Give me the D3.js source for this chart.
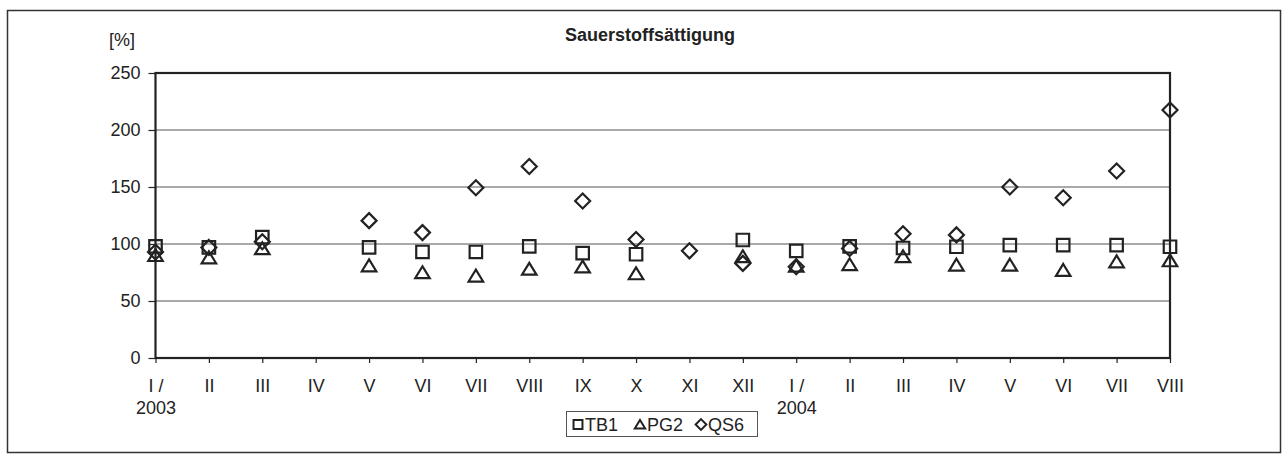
<!DOCTYPE html>
<html><head><meta charset="utf-8">
<script src="https://cdn.jsdelivr.net/npm/d3@7"></script>
<style>html,body{margin:0;padding:0;background:#fff;}svg{display:block;font-family:"Liberation Sans",Arial,sans-serif;}</style>
</head><body>
<svg id="c" width="1288" height="457"></svg>
<script>
const categories = ["I /","II","III","IV","V","VI","VII","VIII","IX","X","XI","XII","I /","II","III","IV","V","VI","VII","VIII"];
const yearLabels = ["2003","","","","","","","","","","","","2004","","","","","","",""];
const yTicks = [0,50,100,150,200,250];
const seriesNames = ["TB1","PG2","QS6"];
const TB1 = [98,97,106,null,97,93,93,98,92,91,null,103.5,94,98,96.5,97.6,99,99,99,97.6];
const PG2 = [90,88,96,null,81,75,72,78,80,74,null,89,80.7,82,89,81.6,81.6,77,84.5,85.4];
const QS6 = [93,97,102,null,120.5,110,149.4,168,137.7,104,94,83,80,96,109,108,150,140.6,164,217.5];

const ink = "#222";
const svg = d3.select("#c");
const plot = {l:155.5, r:1170, t:73, b:358};
const FS = "18px";

svg.append("rect").attr("x",7.5).attr("y",10.5).attr("width",1273).attr("height",442)
  .attr("fill","none").attr("stroke","#333").attr("stroke-width",1.5);

const x = d3.scalePoint().domain(d3.range(categories.length)).range([plot.l, plot.r]);
const y = d3.scaleLinear().domain([0,250]).range([plot.b, plot.t]);

// gridlines
svg.append("g").selectAll("line").data(yTicks.filter(v=>v>0 && v<250)).join("line")
  .attr("x1",plot.l).attr("x2",plot.r).attr("y1",d=>y(d)).attr("y2",d=>y(d))
  .attr("stroke","#555").attr("stroke-width",1);

// y axis
const yAxis = d3.axisLeft(y).tickValues(yTicks).tickSize(7).tickPadding(8);
const gy = svg.append("g").attr("transform",`translate(${plot.l},0)`).call(yAxis);
gy.attr("font-size",null).attr("font-family",null);
gy.select(".domain").remove();
gy.selectAll(".tick line").attr("stroke",ink).attr("stroke-width",1.2);
gy.selectAll(".tick text").attr("fill",ink).attr("font-size",FS).style("font-size",FS);

// x axis
const xAxis = d3.axisBottom(x).tickFormat(i=>categories[i]).tickSize(5).tickPadding(16);
const gx = svg.append("g").attr("transform",`translate(0,${plot.b})`).call(xAxis);
gx.attr("font-size",null).attr("font-family",null);
gx.select(".domain").remove();
gx.selectAll(".tick line").attr("stroke",ink).attr("stroke-width",1.2);
gx.selectAll(".tick text").attr("fill",ink).attr("font-size",FS).style("font-size",FS);
gx.selectAll(".tick").append("text").text(i=>yearLabels[i])
  .attr("y",56).attr("fill",ink).attr("text-anchor","middle")
  .style("font-size",FS);

// plot border
svg.append("rect").attr("x",plot.l).attr("y",plot.t).attr("width",plot.r-plot.l).attr("height",plot.b-plot.t)
  .attr("fill","none").attr("stroke",ink).attr("stroke-width",2.2);

// symbols
const sq = {draw(ctx,size){const h=Math.sqrt(size)/2;ctx.moveTo(-h,-h);ctx.lineTo(h,-h);ctx.lineTo(h,h);ctx.lineTo(-h,h);ctx.closePath();}};
const tri = {draw(ctx,size){const s=Math.sqrt(size);ctx.moveTo(0,-s*0.5);ctx.lineTo(s*0.58,s*0.45);ctx.lineTo(-s*0.58,s*0.45);ctx.closePath();}};
const dia = {draw(ctx,size){const h=Math.sqrt(size)*0.6;ctx.moveTo(0,-h);ctx.lineTo(h,0);ctx.lineTo(0,h);ctx.lineTo(-h,0);ctx.closePath();}};
const symTypes = [sq,tri,dia];
const allSeries = [TB1,PG2,QS6];

allSeries.forEach((vals,si)=>{
  const pts = vals.map((v,i)=>({i,v})).filter(d=>d.v!=null);
  svg.append("g").selectAll("path").data(pts).join("path")
    .attr("transform",d=>`translate(${x(d.i)},${y(d.v)})`)
    .attr("d",d3.symbol().type(symTypes[si]).size(156))
    .attr("fill","none").attr("stroke",ink).attr("stroke-width",2.2);
});

// title
svg.append("text").attr("x",650).attr("y",41).attr("text-anchor","middle")
  .attr("fill",ink).style("font-weight","bold").style("font-size","18px").text("Sauerstoffsättigung");
svg.append("text").attr("x",109).attr("y",46).attr("fill",ink).style("font-size",FS).text("[%]");

// legend
const lg = svg.append("g");
lg.append("rect").attr("x",566.5).attr("y",411.5).attr("width",191).attr("height",25)
  .attr("fill","#fff").attr("stroke","#555").attr("stroke-width",1);
const lx = [578, 640, 701];
seriesNames.forEach((n,si)=>{
  lg.append("path").attr("transform",`translate(${lx[si]},${424.5})`)
    .attr("d",d3.symbol().type(symTypes[si]).size(80))
    .attr("fill","none").attr("stroke",ink).attr("stroke-width",2);
  lg.append("text").attr("x",lx[si]+7).attr("y",431).attr("fill",ink)
    .style("font-size",FS).text(n);
});
</script>
</body></html>
